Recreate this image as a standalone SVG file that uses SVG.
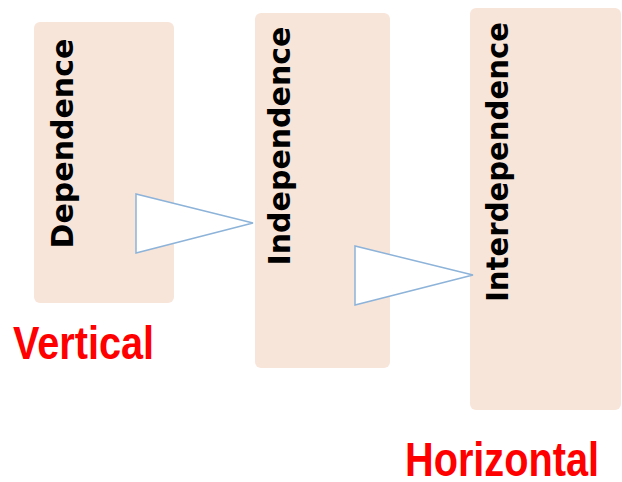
<svg xmlns="http://www.w3.org/2000/svg" width="622" height="482" viewBox="0 0 622 482">
<style>
.box{fill:#F8E5DA;}
.lbl{font-family:"DejaVu Sans",sans-serif;font-weight:bold;font-size:30px;fill:#000;text-anchor:middle;}
.red{font-family:"Liberation Sans",Arial,sans-serif;font-weight:bold;fill:#FF0000;}
.arr{fill:#FFFFFF;stroke:#8DB3D9;stroke-width:1.5;stroke-linejoin:miter;}
</style>
<rect width="622" height="482" fill="#FFFFFF"/>
<g id="node-dependence">
<rect class="box" x="34" y="22" width="140" height="281" rx="6"/>
<text class="lbl" transform="translate(73,143.5) rotate(-90)">Dependence</text>
</g>
<g id="node-independence">
<rect class="box" x="255" y="13" width="135" height="355" rx="6"/>
<text class="lbl" transform="translate(290,146) rotate(-90)">Independence</text>
</g>
<g id="node-interdependence">
<rect class="box" x="470" y="8" width="151" height="402" rx="6"/>
<text class="lbl" transform="translate(508,162) rotate(-90)" textLength="280" lengthAdjust="spacingAndGlyphs">Interdependence</text>
</g>
<g id="connectors">
<polygon class="arr" points="136,194 136,253 253,223"/>
<polygon class="arr" points="355,246 355,305 473,275"/>
</g>
<g id="labels">
<text class="red" x="13" y="359" font-size="46" textLength="141" lengthAdjust="spacingAndGlyphs">Vertical</text>
<text class="red" x="405" y="476" font-size="48" textLength="194" lengthAdjust="spacingAndGlyphs">Horizontal</text>
</g>
</svg>
